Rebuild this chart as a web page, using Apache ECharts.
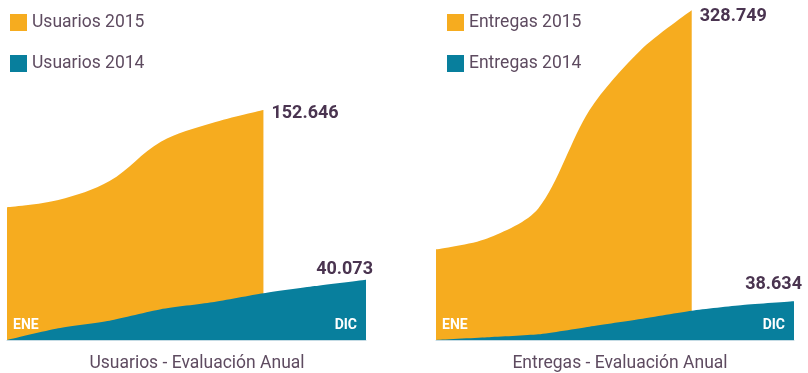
<!DOCTYPE html>
<html>
<head>
<meta charset="utf-8">
<script src="https://cdn.jsdelivr.net/npm/echarts@6/dist/echarts.min.js"></script>
<style>
  html, body { margin: 0; padding: 0; background: #ffffff; }
  #chart { width: 808px; height: 373px; }
</style>
</head>
<body>
<div id="chart"></div>
<script>
// Periods along the year (only the first and last are labelled)
const categories = ['ENE', 'FEB', 'ABR', 'MAY', 'JUL', 'AGO', 'OCT', 'DIC'];

// Usuarios
const usuarios2015 = [88100, 92900, 105500, 131600, 144000, 152646];
const usuarios2014 = [0, 7800, 12800, 20400, 25000, 31000, 35800, 40073];

// Entregas
const entregas2015 = [90400, 101300, 131200, 229100, 288900, 328749];
const entregas2014 = [0, 2700, 5700, 13300, 20900, 29200, 34900, 38634];

const ORANGE = '#f6ac1f';
const TEAL = '#087f9d';
const VALUE_COLOR = '#4a3450';
const TEXT_COLOR = '#5e4b60';
const FONT = 'Roboto';

const fmt = v => v.toLocaleString('de-DE');

function xAxis(gridIndex) {
  return {
    type: 'category',
    gridIndex: gridIndex,
    data: categories,
    boundaryGap: false,
    axisTick: { show: false },
    splitLine: { show: false },
    axisLine: { show: true, lineStyle: { color: '#c4dbe4', width: 1 } },
    axisLabel: {
      inside: true,
      margin: 8,
      interval: (i) => i === 0 || i === categories.length - 1,
      alignMinLabel: 'left',
      alignMaxLabel: 'right',
      formatter: (v, i) => i === 0 ? '{a|' + v + '}' : '{b|' + v + '}',
      rich: {
        a: { color: '#ffffff', fontWeight: 'bold', fontSize: 14, fontFamily: FONT, padding: [0, 0, 0, 6] },
        b: { color: '#ffffff', fontWeight: 'bold', fontSize: 14, fontFamily: FONT, padding: [0, 9, 0, 0] }
      }
    },
    z: 5
  };
}

function yAxis(gridIndex, max) {
  return {
    type: 'value',
    gridIndex: gridIndex,
    min: 0,
    max: max,
    show: false
  };
}

function areaSeries(name, data, color, idx, smooth, endLabel, z) {
  return {
    name: name,
    type: 'line',
    xAxisIndex: idx,
    yAxisIndex: idx,
    data: data,
    smooth: smooth,
    symbol: 'none',
    lineStyle: { width: 0, color: color },
    itemStyle: { color: color },
    areaStyle: { color: color, opacity: 1 },
    endLabel: Object.assign({
      show: true,
      formatter: p => fmt(p.value),
      color: VALUE_COLOR,
      fontWeight: 'bold',
      fontSize: 18,
      fontFamily: FONT
    }, endLabel),
    z: z,
    silent: true,
    animation: false
  };
}

function legend(names, left) {
  return {
    data: names,
    orient: 'vertical',
    left: left,
    top: 8.5,
    itemWidth: 17,
    itemHeight: 17,
    itemGap: 23,
    icon: 'rect',
    textStyle: { color: TEXT_COLOR, fontSize: 17.5, fontFamily: FONT }
  };
}

const chart = echarts.init(document.getElementById('chart'), null, { renderer: 'canvas' });

chart.setOption({
  animation: false,
  backgroundColor: '#ffffff',
  title: [
    { text: 'Usuarios - Evaluación Anual', left: 192, top: 350, textAlign: 'center',
      textStyle: { color: TEXT_COLOR, fontSize: 17.5, fontWeight: 'normal', fontFamily: FONT } },
    { text: 'Entregas - Evaluación Anual', left: 615, top: 350, textAlign: 'center',
      textStyle: { color: TEXT_COLOR, fontSize: 17.5, fontWeight: 'normal', fontFamily: FONT } }
  ],
  legend: [
    legend(['Usuarios 2015', 'Usuarios 2014'], 5),
    legend(['Entregas 2015', 'Entregas 2014'], 442)
  ],
  grid: [
    { left: 7, top: 99, width: 359, height: 241 },
    { left: 436, top: 9, width: 358, height: 331 }
  ],
  xAxis: [xAxis(0), xAxis(1)],
  yAxis: [yAxis(0, 160000), yAxis(1, 330000)],
  series: [
    areaSeries('Usuarios 2015', usuarios2015, ORANGE, 0, 0.35,
      { distance: 8, offset: [0, 3] }, 2),
    areaSeries('Usuarios 2014', usuarios2014, TEAL, 0, 0.2,
      { distance: 5, align: 'right', verticalAlign: 'middle', offset: [2, -10] }, 3),
    areaSeries('Entregas 2015', entregas2015, ORANGE, 1, 0.3,
      { distance: 8, offset: [0, 6] }, 2),
    areaSeries('Entregas 2014', entregas2014, TEAL, 1, 0.2,
      { distance: 5, align: 'right', verticalAlign: 'middle', offset: [3, -17] }, 3)
  ]
});
</script>
</body>
</html>
